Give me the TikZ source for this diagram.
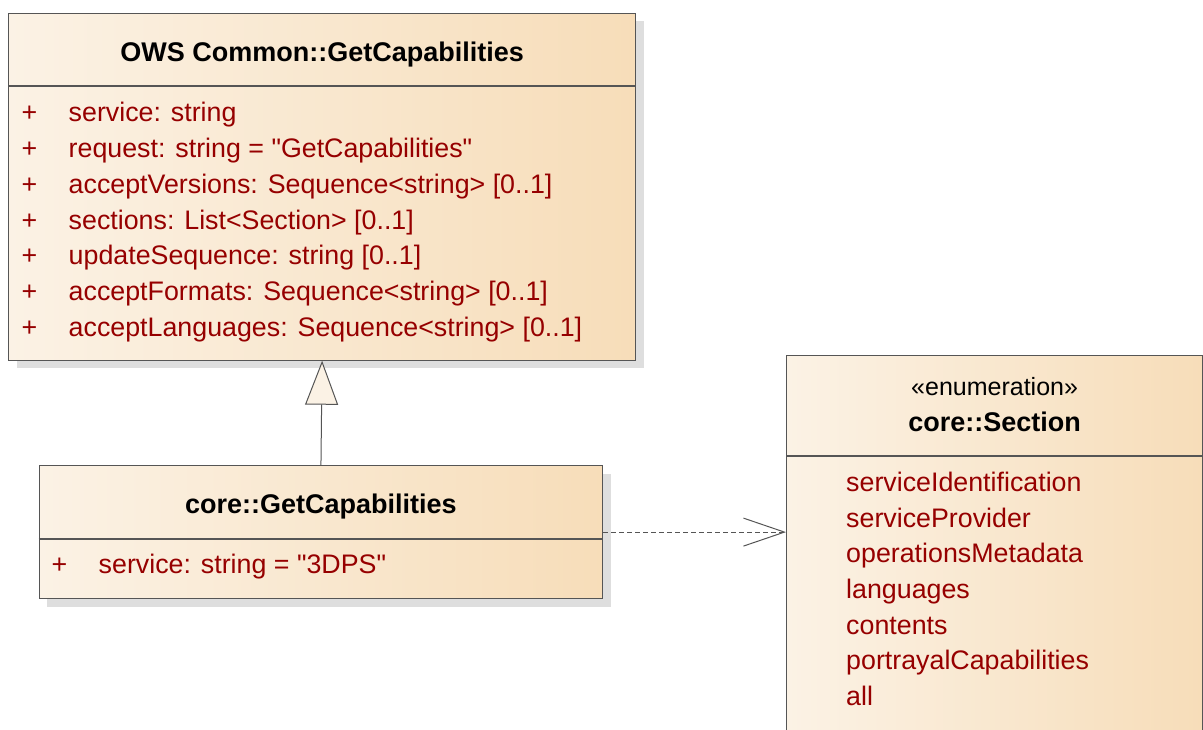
\documentclass[tikz,border=0pt]{standalone}
\usepackage{fontspec}
\setmainfont{Liberation Sans}
\newfontfamily\attrfont{Liberation Sans}
\usetikzlibrary{arrows.meta,shadows}

\definecolor{boxleft}{RGB}{251,242,229}
\definecolor{boxright}{RGB}{247,221,185}
\definecolor{boxline}{RGB}{85,85,85}
\definecolor{attrred}{RGB}{150,0,0}
\definecolor{shadowgray}{RGB}{222,222,222}

\tikzset{
  classbox/.style={rectangle, draw=boxline, line width=1.2pt, inner sep=0pt,
    left color=boxleft, right color=boxright, anchor=north west,
    drop shadow={shadow xshift=8pt, shadow yshift=-8pt, fill=shadowgray, opacity=1}},
  sepline/.style={draw=boxline, line width=1.2pt},
  classtitle/.style={inner sep=0pt, anchor=base, text=black,
    font=\bfseries\fontsize{27}{30}\selectfont},
  stereo/.style={inner sep=0pt, anchor=base, text=black,
    font=\attrfont\fontsize{25}{28}\selectfont},
  attr/.style={inner sep=0pt, anchor=base west, text=attrred,
    font=\attrfont\fontsize{26.8}{30}\selectfont},
  generalization/.style={draw=boxline, line width=1pt,
    -{Triangle[length=44pt, width=33pt, fill=boxleft]}},
  dependency/.style={draw=boxline, line width=1pt, dash pattern=on 5pt off 3pt,
    -{Straight Barb[length=41pt, width=28pt]}},
}

\begin{document}
\begin{tikzpicture}[x=1pt, y=-1pt]
\useasboundingbox (0,0) rectangle (1203,729);
\clip (0,0) rectangle (1203,729);

% OWS Common::GetCapabilities
\node[classbox, minimum width=627pt, minimum height=347pt] (ows) at (8,12.5) {};
\draw[sepline] (ows.west |- 0,86) -- (ows.east |- 0,86);
\node[classtitle] (owsT) at (ows.center |- 0,61.7) {OWS Common::GetCapabilities};
\foreach \txt [count=\i from 0] in {
  {service: string},
  {request: string = "GetCapabilities"},
  {acceptVersions: Sequence<string> [0..1]},
  {sections: List<Section> [0..1]},
  {updateSequence: string [0..1]},
  {acceptFormats: Sequence<string> [0..1]},
  {acceptLanguages: Sequence<string> [0..1]}} {
  \pgfmathsetmacro{\yy}{121.7+35.8*\i}
  \node[attr] (owsP\i) at (21.5,\yy) {+};
  \node[attr] (owsA\i) at (68.5,\yy) {\txt};
}

% core::GetCapabilities
\node[classbox, minimum width=563.5pt, minimum height=133pt] (core) at (38.6,465) {};
\draw[sepline] (core.west |- 0,539) -- (core.east |- 0,539);
\node[classtitle] (coreT) at (core.center |- 0,513) {core::GetCapabilities};
\node[attr] (coreP) at (51.5,573) {+};
\node[attr] (coreA) at (98.5,573) {service: string = "3DPS"};

% core::Section enumeration
\node[classbox, minimum width=416pt, minimum height=420pt] (sec) at (786,355) {};
\draw[sepline] (sec.west |- 0,456) -- (sec.east |- 0,456);
\node[stereo] (secS) at (sec.center |- 0,395) {«enumeration»};
\node[classtitle] (secT) at (sec.center |- 0,431.7) {core::Section};
\foreach \txt [count=\i from 0] in {serviceIdentification, serviceProvider,
  operationsMetadata, languages, contents, portrayalCapabilities, all} {
  \pgfmathsetmacro{\yy}{491.7+35.6*\i}
  \node[attr] (secA\i) at (846,\yy) {\txt};
}

% connectors
\draw[generalization] (core.north) -- (ows.south);
\draw[dependency] (core.east) -- (core.east -| sec.west);
\end{tikzpicture}
\end{document}
